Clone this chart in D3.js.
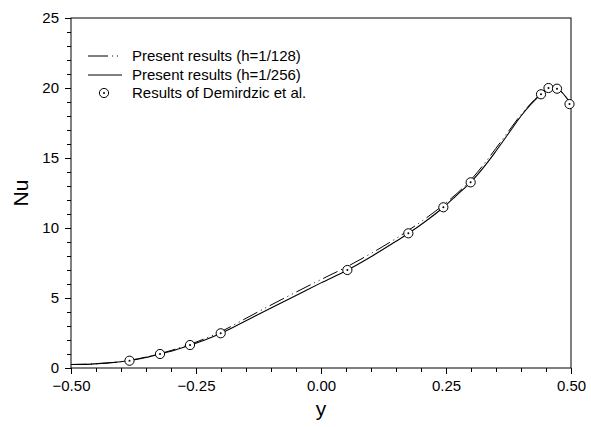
<!DOCTYPE html>
<html>
<head>
<meta charset="utf-8">
<script src="https://cdn.jsdelivr.net/npm/d3@7"></script>
<style>
  body { margin: 0; background: #fff; }
  text { font-family: "Liberation Sans", Arial, sans-serif; fill: #000; }
</style>
</head>
<body>
<svg id="chart" width="591" height="427"></svg>
<script>
// Nu along y: h=1/256 (solid), h=1/128 (dash-dot), Demirdzic et al. (circles)
var fineY  = [-0.50, -0.46, -0.43, -0.40, -0.383, -0.35, -0.322, -0.29, -0.262, -0.23, -0.20, -0.15, -0.10, -0.05, 0.00, 0.053, 0.10, 0.15, 0.175, 0.21, 0.245, 0.27, 0.30, 0.33, 0.35, 0.38, 0.40, 0.42, 0.44, 0.455, 0.465, 0.475, 0.49, 0.50];
var fineNu = [0.25, 0.28, 0.35, 0.45, 0.53, 0.75, 1.00, 1.30, 1.63, 2.03, 2.48, 3.38, 4.28, 5.18, 6.08, 7.00, 7.95, 9.05, 9.62, 10.5, 11.48, 12.3, 13.3, 14.55, 15.5, 17.0, 18.0, 18.85, 19.55, 20.0, 20.05, 19.9, 19.35, 18.85];

var coarseY  = [-0.50, -0.46, -0.43, -0.40, -0.35, -0.30, -0.25, -0.20, -0.15, -0.10, -0.05, 0.00, 0.05, 0.10, 0.15, 0.20, 0.25, 0.30, 0.33, 0.35, 0.38, 0.40, 0.42, 0.44, 0.455, 0.465, 0.475, 0.49, 0.50];
var coarseNu = [0.25, 0.28, 0.35, 0.46, 0.78, 1.25, 1.85, 2.6, 3.55, 4.5, 5.42, 6.32, 7.2, 8.18, 9.25, 10.45, 11.8, 13.45, 14.75, 15.7, 17.15, 18.1, 18.9, 19.6, 20.05, 20.08, 19.92, 19.35, 18.85];

var refY  = [-0.383, -0.322, -0.262, -0.2006, 0.0527, 0.1747, 0.2447, 0.2993, 0.44, 0.455, 0.472, 0.497];
var refNu = [0.52, 1.0, 1.64, 2.48, 7.0, 9.62, 11.48, 13.26, 19.55, 20.0, 19.95, 18.85];

var xTicks = [-0.50, -0.25, 0.00, 0.25, 0.50];
var yTicks = [0, 5, 10, 15, 20, 25];
var legendLabels = ["Present results (h=1/128)", "Present results (h=1/256)", "Results of Demirdzic et al."];

// Plot box
var boxL = 71, boxR = 571, boxT = 18, boxB = 368;

var svg = d3.select("#chart");

var x = d3.scaleLinear().domain([-0.5, 0.5]).range([boxL, boxR]);
var y = d3.scaleLinear().domain([0, 25]).range([boxB, boxT]);

// frame
svg.append("rect")
  .attr("x", boxL).attr("y", boxT)
  .attr("width", boxR - boxL).attr("height", boxB - boxT)
  .attr("fill", "none").attr("stroke", "#000").attr("stroke-width", 1);

// x axis: minor then major ticks
var xAxis = svg.append("g").attr("transform", "translate(0," + boxB + ")");
xAxis.append("g").call(d3.axisBottom(x).tickValues(d3.range(-0.5, 0.5001, 0.05)).tickSize(4).tickFormat(""));
xAxis.append("g").call(d3.axisBottom(x).tickValues(xTicks).tickSize(6).tickPadding(6).tickFormat(d3.format(".2f")));
xAxis.selectAll(".domain").remove();
xAxis.selectAll("text").style("font-size", "15px").style("font-family", "Liberation Sans, Arial, sans-serif");

var yAxis = svg.append("g").attr("transform", "translate(" + boxL + ",0)");
yAxis.append("g").call(d3.axisLeft(y).tickValues(d3.range(0, 25.01, 1)).tickSize(4).tickFormat(""));
yAxis.append("g").call(d3.axisLeft(y).tickValues(yTicks).tickSize(6).tickPadding(6).tickFormat(d3.format("d")));
yAxis.selectAll(".domain").remove();
yAxis.selectAll("text").style("font-size", "15px").style("font-family", "Liberation Sans, Arial, sans-serif");

// axis titles
svg.append("text")
  .attr("x", (boxL + boxR) / 2).attr("y", 416)
  .attr("text-anchor", "middle")
  .style("font-size", "21px")
  .text("y");
svg.append("text")
  .attr("transform", "translate(28," + ((boxT + boxB) / 2) + ") rotate(-90)")
  .attr("text-anchor", "middle")
  .style("font-size", "21px")
  .text("Nu");

var line = d3.line()
  .x(function(d) { return x(d[0]); })
  .y(function(d) { return y(d[1]); })
  .curve(d3.curveMonotoneX);

var dashStyle = "16,4,1,4,1,4";

svg.append("path")
  .datum(coarseY.map(function(v, i) { return [v, coarseNu[i]]; }))
  .attr("d", line)
  .attr("fill", "none").attr("stroke", "#000").attr("stroke-width", 1)
  .attr("stroke-dasharray", dashStyle);

svg.append("path")
  .datum(fineY.map(function(v, i) { return [v, fineNu[i]]; }))
  .attr("d", line)
  .attr("fill", "none").attr("stroke", "#000").attr("stroke-width", 1.1);

// circled-dot markers
var pts = svg.append("g").selectAll("g")
  .data(refY.map(function(v, i) { return [v, refNu[i]]; }))
  .enter().append("g")
  .attr("transform", function(d) { return "translate(" + x(d[0]) + "," + y(d[1]) + ")"; });
pts.append("circle").attr("r", 4.6).attr("fill", "#fff").attr("stroke", "#000").attr("stroke-width", 1);
pts.append("circle").attr("r", 1).attr("fill", "#000");

// legend
var legend = svg.append("g");
var rows = [56, 75, 93];
legend.append("line")
  .attr("x1", 88).attr("x2", 122).attr("y1", rows[0]).attr("y2", rows[0])
  .attr("stroke", "#000").attr("stroke-dasharray", "20,4,1,4,1,4");
legend.append("line")
  .attr("x1", 88).attr("x2", 122).attr("y1", rows[1]).attr("y2", rows[1])
  .attr("stroke", "#000");
legend.append("circle").attr("cx", 104).attr("cy", rows[2]).attr("r", 4.6)
  .attr("fill", "#fff").attr("stroke", "#000");
legend.append("circle").attr("cx", 104).attr("cy", rows[2]).attr("r", 1).attr("fill", "#000");
legend.selectAll("text.lg")
  .data(legendLabels)
  .enter().append("text")
  .attr("class", "lg")
  .attr("x", 132)
  .attr("y", function(d, i) { return rows[i] + 5; })
  .style("font-size", "15px")
  .text(function(d) { return d; });
</script>
</body>
</html>
